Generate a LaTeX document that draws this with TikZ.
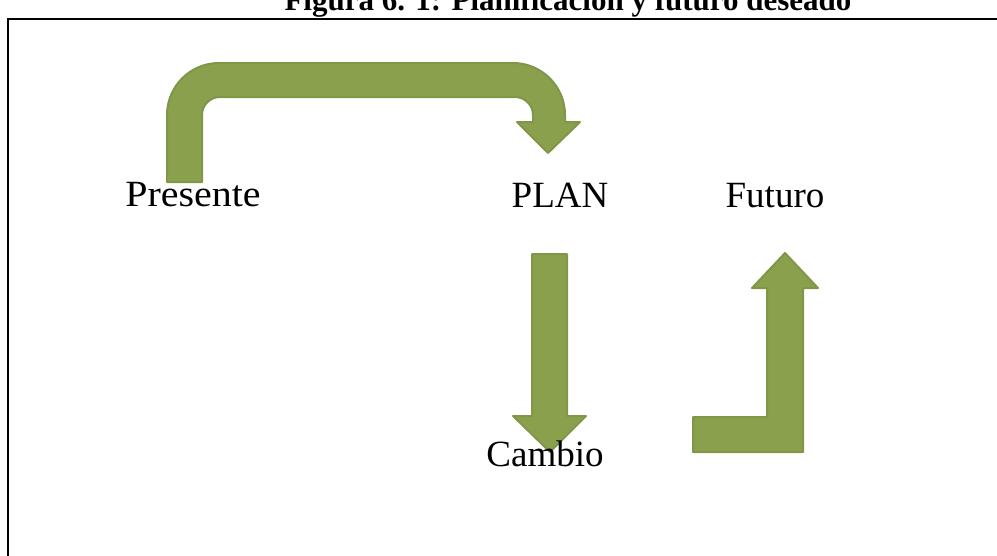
\documentclass[tikz,border=0pt]{standalone}
\usepackage{fontspec}
\setmainfont{Liberation Serif}
\usepackage{tikz}
\usetikzlibrary{arrows,positioning}
\definecolor{verdeflecha}{RGB}{139,160,76}
\definecolor{bordeflecha}{RGB}{128,150,72}
\tikzset{
    % Define block arrow style
    flecha/.style={
           fill=verdeflecha,
           draw=bordeflecha,
           line width=2pt,
           line join=round,},
    % Define label style
    etiqueta/.style={
           anchor=base,
           inner sep=0pt,
           font=\fontsize{37}{40}\selectfont,}
}
\begin{document}
\begin{tikzpicture}[
x=1pt, y=-1pt,
marco/.style={draw=black, line width=2pt},
]
\useasboundingbox (0,0) rectangle (997,555);
\clip (0,0) rectangle (997,555);

%Title and frame
\node[anchor=base, inner sep=0pt, font=\fontsize{31}{34}\selectfont\bfseries](titulo) at (568,10)
    {Figura 6. 1: Planificación y futuro deseado};
\path[marco] (8,570) -- (8,19) -- (1010,19);

%Arrows
\path[flecha] (167,182) -- (167,115) arc[start angle=180, end angle=270, radius=52]
    -- (513,63) arc[start angle=270, end angle=360, radius=52]
    -- (565,122) -- (580,122) -- (548,153) -- (517,122) -- (533,122)
    -- (533,115) arc[start angle=0, end angle=-90, radius=18]
    -- (220,97) arc[start angle=270, end angle=180, radius=18]
    -- (202,182) -- cycle;
\path[flecha] (532,254) -- (567,254) -- (567,416) -- (586,416) -- (550,452)
    -- (513,416) -- (532,416) -- cycle;
\path[flecha] (693,417) -- (767,417) -- (767,288) -- (752,288) -- (785,253)
    -- (818,288) -- (803,288) -- (803,452) -- (693,452) -- cycle;

%Nodes
\node[etiqueta, xscale=1.08](presente) at (193,206){Presente};
\node[etiqueta](plan) at (560,207){PLAN};
\node[etiqueta](futuro) at (775,207){Futuro};
\node[etiqueta](cambio) at (545,466){Cambio};

\end{tikzpicture}
\end{document}
